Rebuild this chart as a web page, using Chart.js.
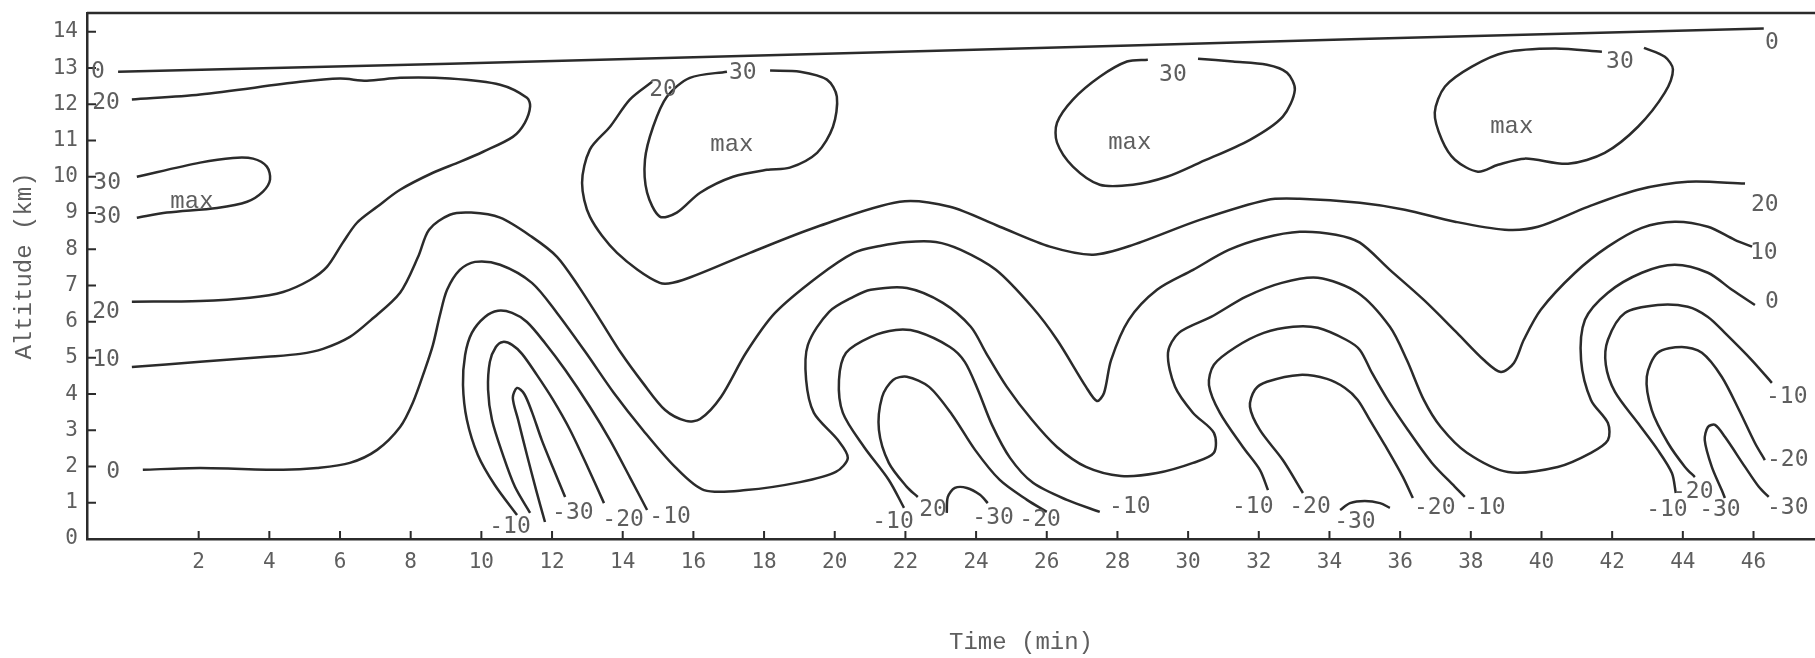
<!DOCTYPE html>
<html>
<head>
<meta charset="utf-8">
<title>Altitude / time contours</title>
<script src="https://cdn.jsdelivr.net/npm/chart.js@4.4.1/dist/chart.umd.min.js"></script>
<style>
  html, body { margin: 0; padding: 0; background: #fff; }
  #wrap { width: 1815px; height: 658px; position: relative; }
</style>
</head>
<body>
<div id="wrap"><canvas id="chart"></canvas></div>
<script>
// tick values
const xTicks = [2, 4, 6, 8, 10, 12, 14, 16, 18, 20, 22, 24, 26, 28, 30, 32, 34, 36, 38, 40, 42, 44, 46];
const yTicks = [0, 1, 2, 3, 4, 5, 6, 7, 8, 9, 10, 11, 12, 13, 14];

// contour lines, [time (min), altitude (km)]
const zeroTop = [[-0.28,12.90],[9.11,13.12],[21.85,13.45],[34.86,13.80],[46.29,14.09]];

const twentyWest = [[0.11,12.13],[2.04,12.27],[4.87,12.62],[6.00,12.71],[6.76,12.65],[7.70,12.73],[9.11,12.71],
  [10.53,12.54],[11.29,12.18],[11.38,11.94],[11.23,11.49],[10.89,11.10],[10.05,10.69],[9.39,10.41],[8.63,10.11],
  [7.70,9.64],[7.05,9.17],[6.48,8.73],[6.08,8.18],[5.63,7.51],[5.15,7.15],[4.39,6.82],[3.45,6.66],[2.04,6.57],[0.11,6.55]];

const thirtyWest = [[0.25,10.00],[2.04,10.39],[2.97,10.52],[3.54,10.50],[3.93,10.28],[4.02,9.92],[3.82,9.59],
  [3.37,9.31],[2.52,9.14],[1.10,9.01],[0.25,8.87]];

const twentyEast = [[14.83,12.62],[14.20,12.13],[13.64,11.38],[13.07,10.75],[12.85,9.83],[13.07,8.90],[13.84,7.90],
  [15.05,7.07],[15.70,7.15],[17.60,7.90],[19.50,8.62],[21.84,9.31],[23.26,9.17],[24.67,8.62],[26.09,8.07],[27.31,7.85],
  [28.44,8.12],[30.33,8.81],[32.23,9.36],[33.16,9.39],[34.86,9.28],[36.13,9.09],[37.55,8.76],[38.96,8.54],[39.90,8.62],
  [41.31,9.17],[42.73,9.64],[44.14,9.86],[45.76,9.81]];

const thirtyA = [[16.95,12.90],[15.90,12.73],[15.25,12.21],[14.86,11.38],[14.63,10.47],[14.69,9.56],[15.05,8.90],
  [15.53,9.01],[16.19,9.56],[17.12,10.00],[18.08,10.19],[18.73,10.25],[19.50,10.66],[19.95,11.38],[20.06,12.21],
  [19.78,12.68],[19.02,12.90],[18.17,12.93]];

const thirtyB = [[28.86,13.23],[28.27,13.18],[27.50,12.76],[26.74,12.13],[26.29,11.49],[26.29,10.94],[26.74,10.28],
  [27.50,9.78],[28.44,9.78],[29.40,10.00],[30.33,10.39],[31.75,11.02],[32.68,11.66],[33.02,12.40],[32.80,12.87],
  [32.23,13.09],[31.27,13.18],[30.28,13.26]];

const thirtyC = [[41.71,13.45],[40.38,13.54],[38.96,13.43],[38.03,13.04],[37.27,12.49],[36.98,11.77],[37.18,11.02],
  [37.55,10.47],[38.20,10.14],[38.77,10.33],[39.53,10.50],[40.75,10.36],[41.79,10.66],[42.73,11.38],[43.49,12.32],
  [43.72,12.96],[43.49,13.31],[42.90,13.56]];

const ten = [[0.11,4.75],[2.04,4.89],[3.93,5.03],[4.87,5.11],[5.52,5.25],[6.28,5.58],[6.88,6.05],[7.70,6.80],
  [8.21,7.79],[8.52,8.54],[9.11,8.95],[9.71,9.01],[10.53,8.87],[11.43,8.34],[12.14,7.79],[12.76,6.96],[13.36,6.05],
  [13.95,5.14],[14.57,4.31],[15.20,3.56],[15.79,3.26],[16.19,3.31],[16.78,3.92],[17.49,5.14],[18.31,6.24],[19.52,7.24],
  [20.54,7.90],[21.28,8.09],[22.04,8.20],[22.86,8.20],[23.57,7.98],[24.56,7.43],[25.58,6.41],[26.29,5.50],[27.11,4.20],
  [27.42,3.81],[27.62,4.03],[27.82,4.94],[28.32,6.05],[29.12,6.88],[30.14,7.43],[31.15,7.98],[32.14,8.31],[33.16,8.48],
  [34.18,8.40],[34.86,8.18],[35.71,7.43],[36.67,6.60],[37.61,5.69],[38.37,4.94],[38.85,4.61],[39.22,4.86],[39.50,5.50],
  [39.98,6.33],[40.95,7.35],[41.88,8.07],[42.84,8.59],[43.77,8.76],[44.71,8.62],[45.47,8.26],[45.96,8.07]];

const zero = [[0.42,1.91],[2.04,1.96],[4.39,1.91],[5.35,1.96],[6.28,2.10],[7.05,2.46],[7.70,3.09],[8.06,3.76],
  [8.40,4.67],[8.63,5.36],[8.83,6.19],[9.03,6.88],[9.39,7.43],[9.82,7.65],[10.53,7.57],[11.43,7.07],[12.14,6.24],
  [12.96,5.14],[13.75,4.03],[14.57,3.01],[15.48,1.99],[16.30,1.35],[17.49,1.35],[19.02,1.57],[20.03,1.85],[20.37,2.24],
  [20.09,2.73],[19.41,3.48],[19.19,4.39],[19.24,5.36],[19.84,6.27],[20.54,6.69],[21.02,6.88],[22.04,6.93],[23.06,6.52],
  [23.85,5.86],[24.28,5.14],[24.87,4.20],[25.58,3.29],[26.29,2.54],[27.11,1.99],[28.10,1.74],[29.12,1.82],[30.14,2.10],
  [30.73,2.38],[30.73,2.93],[30.14,3.48],[29.63,4.20],[29.43,5.14],[29.74,5.69],[30.65,6.13],[31.64,6.69],[32.65,7.07],
  [33.67,7.21],[34.80,6.80],[35.71,5.86],[36.19,4.94],[36.67,3.84],[37.15,3.09],[37.89,2.38],[39.05,1.85],[40.46,1.99],
  [41.40,2.38],[41.88,2.73],[41.88,3.20],[41.40,3.84],[41.12,4.94],[41.23,6.05],[41.88,6.80],[42.84,7.35],[43.77,7.57],
  [44.71,7.35],[45.39,6.88],[46.04,6.46]];

const minus10a = [[11.01,0.66],[10.38,1.49],[9.90,2.32],[9.59,3.29],[9.48,4.25],[9.54,5.08],[9.73,5.69],[10.10,6.13],
  [10.47,6.30],[10.87,6.24],[11.29,5.99],[11.80,5.41],[12.37,4.67],[13.07,3.65],[13.64,2.73],[14.20,1.71],[14.69,0.80]];
const minus20a = [[11.38,0.72],[10.95,1.44],[10.61,2.32],[10.30,3.29],[10.19,4.12],[10.24,4.89],[10.41,5.30],
  [10.61,5.44],[10.87,5.36],[11.15,5.11],[11.57,4.53],[12.03,3.84],[12.51,3.01],[13.02,1.96],[13.47,0.99]];
const minus30a = [[11.80,0.47],[11.55,1.35],[11.29,2.32],[11.04,3.29],[10.89,3.90],[11.01,4.17],[11.21,4.01],
  [11.43,3.51],[11.71,2.73],[12.03,1.96],[12.37,1.16]];

const minus10b = [[21.96,0.86],[21.53,1.63],[20.83,2.54],[20.23,3.48],[20.12,4.39],[20.32,5.14],[21.02,5.58],
  [21.73,5.77],[22.35,5.72],[23.26,5.30],[23.68,4.89],[24.05,4.12],[24.45,3.15],[24.96,2.24],[25.61,1.55],[26.57,1.08],[27.50,0.75]];
const minus20b = [[22.35,1.16],[22.04,1.44],[21.53,2.10],[21.25,3.01],[21.34,3.92],[21.65,4.39],[22.04,4.48],
  [22.67,4.20],[23.32,3.43],[23.97,2.46],[24.67,1.63],[25.44,1.08],[26.00,0.75]];
const minus30b = [[23.17,0.72],[23.20,1.16],[23.40,1.41],[23.74,1.41],[24.11,1.22],[24.33,0.99]];

const minus10c = [[32.26,1.35],[32.03,1.91],[31.55,2.54],[30.90,3.48],[30.59,4.25],[30.73,4.81],[31.35,5.30],
  [32.14,5.69],[32.97,5.86],[33.67,5.83],[34.47,5.50],[34.86,5.22],[35.20,4.59],[35.65,3.84],[36.22,3.01],[36.90,2.10],
  [37.55,1.44],[37.83,1.16]];
const minus20c = [[33.25,1.27],[32.68,2.18],[32.03,3.01],[31.75,3.65],[31.89,4.12],[32.23,4.34],[33.16,4.53],
  [33.93,4.42],[34.44,4.17],[34.80,3.84],[35.14,3.29],[35.60,2.54],[36.08,1.71],[36.36,1.13]];
const minus30c = [[34.30,0.80],[34.58,0.99],[35.00,1.05],[35.43,0.99],[35.71,0.86]];

const minus10d = [[43.80,1.27],[43.69,1.82],[43.29,2.46],[42.73,3.20],[42.08,4.06],[41.82,4.81],[41.88,5.50],
  [42.36,6.24],[43.29,6.46],[44.14,6.41],[44.71,6.13],[45.19,5.69],[45.95,4.94],[46.52,4.31]];
const minus20d = [[44.34,1.71],[44.06,1.99],[43.58,2.65],[43.12,3.56],[42.98,4.48],[43.29,5.14],[43.97,5.30],
  [44.54,5.14],[45.10,4.48],[45.59,3.56],[46.04,2.65],[46.32,2.18]];
const minus30d = [[45.19,1.13],[45.10,1.35],[44.82,1.99],[44.62,2.73],[44.71,3.09],[44.91,3.15],[45.19,2.82],
  [45.76,1.99],[46.15,1.44],[46.43,1.16]];

const contours = [zeroTop, twentyWest, thirtyWest, twentyEast, thirtyA, thirtyB, thirtyC, ten, zero,
  minus10a, minus20a, minus30a, minus10b, minus20b, minus30b, minus10c, minus20c, minus30c,
  minus10d, minus20d, minus30d];

// contour value labels: [text, time, altitude]
const valueLabels = [
  ['0', -0.85, 12.90], ['20', -0.62, 12.04], ['30', -0.59, 9.83], ['30', -0.59, 8.90],
  ['20', -0.62, 6.27], ['10', -0.62, 4.94], ['0', -0.42, 1.85],
  ['0', 46.52, 13.70], ['20', 46.32, 9.23], ['10', 46.29, 7.90], ['0', 46.52, 6.55],
  ['-10', 46.94, 3.92], ['-20', 46.97, 2.18], ['-30', 46.97, 0.86],
  ['20', 15.14, 12.40], ['30', 17.40, 12.87], ['30', 29.57, 12.82], ['30', 42.22, 13.18],
  ['-10', 10.81, 0.33], ['-30', 12.59, 0.72], ['-20', 14.01, 0.52], ['-10', 15.34, 0.61],
  ['-10', 21.65, 0.47], ['20', 22.78, 0.80], ['-30', 24.48, 0.58], ['-20', 25.81, 0.52], ['-10', 28.35, 0.88],
  ['-10', 31.83, 0.88], ['-20', 33.45, 0.88], ['-30', 34.72, 0.47], ['-20', 36.98, 0.86], ['-10', 38.40, 0.86],
  ['-20', 44.28, 1.30], ['-10', 43.55, 0.80], ['-30', 45.05, 0.80]
];
const maxLabels = [[1.81, 9.31], [17.09, 10.88], [28.35, 10.94], [39.16, 11.38]];

const INK = '#2b2b2b';
const TEXT = '#5e5e5e';

const figurePlugin = {
  id: 'figure',
  afterDatasetsDraw(chart) {
    const { ctx, chartArea: a, scales: { x, y } } = chart;
    ctx.save();
    ctx.strokeStyle = INK;
    ctx.lineWidth = 2.5;
    ctx.beginPath();
    ctx.moveTo(a.left, a.top);
    ctx.lineTo(a.right, a.top);
    ctx.stroke();
    // inward tick marks
    ctx.lineWidth = 2;
    ctx.beginPath();
    x.ticks.forEach(t => {
      const px = x.getPixelForValue(t.value);
      ctx.moveTo(px, a.bottom);
      ctx.lineTo(px, a.bottom - 8);
    });
    y.ticks.forEach(t => {
      if (t.value === 0) return;
      const py = y.getPixelForValue(t.value);
      ctx.moveTo(a.left, py);
      ctx.lineTo(a.left + 9, py);
    });
    ctx.stroke();

    ctx.fillStyle = TEXT;
    ctx.textAlign = 'center';
    ctx.textBaseline = 'middle';
    ctx.font = '23px "DejaVu Sans Mono", monospace';
    valueLabels.forEach(([t, vx, vy]) => {
      ctx.fillText(t, x.getPixelForValue(vx), y.getPixelForValue(vy));
    });
    ctx.font = '24px "Liberation Mono", monospace';
    maxLabels.forEach(([vx, vy]) => {
      ctx.fillText('max', x.getPixelForValue(vx), y.getPixelForValue(vy));
    });

    // axis titles
    ctx.fillText('Time (min)', 1021, 643);
    ctx.translate(25, 266);
    ctx.rotate(-Math.PI / 2);
    ctx.fillText('Altitude (km)', 0, 0);
    ctx.restore();
  }
};

function renderChart(ctx) {
  return new Chart(ctx, {
    type: 'scatter',
    data: {
      datasets: contours.map(line => ({
        data: line.map(([t, h]) => ({ x: t, y: h })),
        showLine: true,
        borderColor: INK,
        borderWidth: 2.5,
        pointRadius: 0,
        tension: 0.3,
        fill: false
      }))
    },
    options: {
      responsive: true,
      maintainAspectRatio: false,
      animation: false,
      layout: { padding: { top: 13, left: 0, right: 0, bottom: 0 } },
      plugins: { legend: { display: false }, tooltip: { enabled: false } },
      scales: {
        x: {
          type: 'linear',
          min: -1.16,
          max: 47.74,
          afterBuildTicks: s => { s.ticks = xTicks.map(v => ({ value: v })); },
          afterFit: s => { s.height = 119; s.paddingLeft = 0; s.paddingRight = 0; },
          grid: { display: true, drawOnChartArea: false, drawTicks: false },
          border: { display: true, color: INK, width: 2.5 },
          ticks: { padding: 11, color: TEXT, font: { family: 'DejaVu Sans Mono', size: 21 } }
        },
        y: {
          type: 'linear',
          min: 0,
          max: 14.52,
          afterBuildTicks: s => { s.ticks = yTicks.map(v => ({ value: v })); },
          afterFit: s => { s.width = 87; s.paddingTop = 0; s.paddingBottom = 0; },
          grid: { display: true, drawOnChartArea: false, drawTicks: false },
          border: { display: true, color: INK, width: 2.5 },
          ticks: { padding: 9, color: TEXT, font: { family: 'DejaVu Sans Mono', size: 21 } }
        }
      }
    },
    plugins: [figurePlugin]
  });
}

renderChart(document.getElementById('chart').getContext('2d'));
</script>
</body>
</html>
